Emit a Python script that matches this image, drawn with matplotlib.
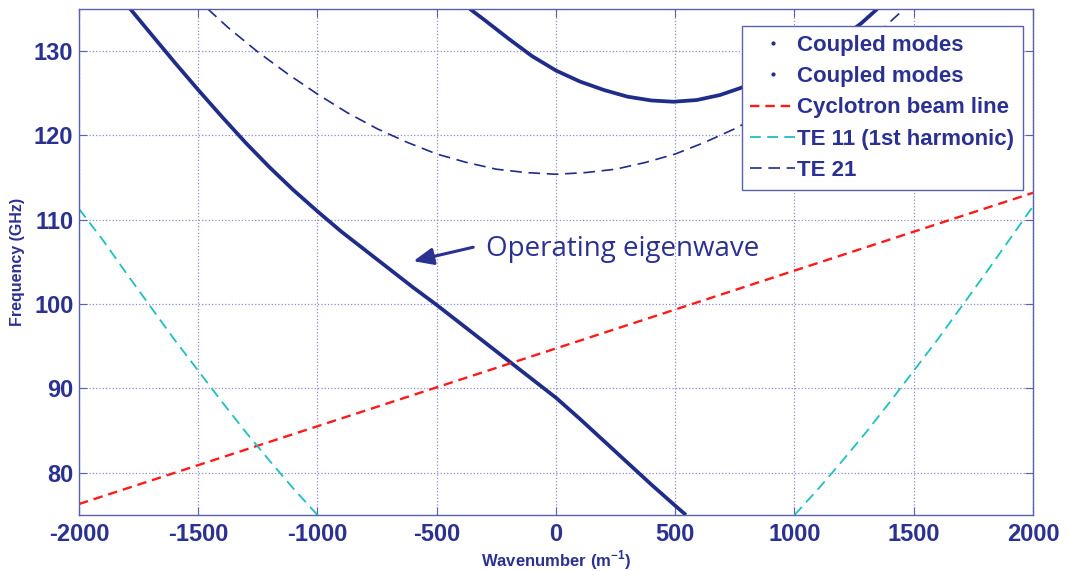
import matplotlib
matplotlib.use('Agg')
import matplotlib.pyplot as plt
from matplotlib.lines import Line2D

# values
k_low = [-1785, -1700, -1600, -1500, -1400, -1300, -1200, -1100, -1000, -900, -800, -700, -600,
         -500, -400, -300, -200, -100, 0, 100, 200, 300, 400, 500, 545]
f_low = [135.0, 132.1, 128.7, 125.4, 122.2, 119.1, 116.2, 113.5, 111.0, 108.6, 106.4, 104.2, 102.0,
         99.9, 97.7, 95.5, 93.3, 91.1, 88.9, 86.4, 83.8, 81.2, 78.6, 76.1, 75.0]

k_up = [-361, -300, -200, -100, 0, 100, 200, 300, 400, 492, 590, 688, 771, 900, 1000, 1100, 1200, 1280, 1347]
f_up = [135.0, 133.7, 131.5, 129.4, 127.7, 126.4, 125.4, 124.6, 124.15, 124.0, 124.2, 124.8, 125.6,
        127.0, 128.3, 129.9, 131.6, 133.3, 135.0]

k_beam = [-2000, 2000]
f_beam = [76.3, 113.2]

k_te11_l = [-2000, -1900, -1800, -1700, -1600, -1500, -1400, -1300, -1200, -1100, -1000]
f_te11_l = [111.3, 107.6, 103.6, 99.7, 95.8, 92.1, 88.4, 84.8, 81.4, 78.1, 75.0]
k_te11_r = [1000, 1100, 1200, 1300, 1400, 1500, 1600, 1700, 1800, 1900, 2000]
f_te11_r = [75.0, 78.1, 81.4, 84.8, 88.4, 92.1, 95.8, 99.7, 103.6, 107.6, 111.6]

k_te21 = [-1460, -1375, -1250, -1125, -1000, -875, -750, -625, -500, -375, -250, -125, 0,
          125, 250, 375, 500, 625, 750, 875, 1000, 1125, 1250, 1375, 1460]
f_te21 = [135.0, 132.8, 129.9, 127.3, 124.9, 122.7, 120.8, 119.2, 117.8, 116.8, 116.0, 115.6, 115.4,
          115.6, 116.0, 116.8, 117.8, 119.2, 120.8, 122.7, 124.9, 127.3, 129.9, 132.8, 135.0]

xticks = [-2000, -1500, -1000, -500, 0, 500, 1000, 1500, 2000]
yticks = [80, 90, 100, 110, 120, 130]

navy = '#2b3190'
line_navy = '#1f2c88'
frame = '#5a5fae'
plt.rcParams['font.family'] = ['Liberation Sans', 'DejaVu Sans']
plt.rcParams['axes.unicode_minus'] = False
plt.rcParams['mathtext.fontset'] = 'custom'
plt.rcParams['mathtext.bf'] = 'Liberation Sans:bold'
plt.rcParams['mathtext.rm'] = 'Liberation Sans:bold'

fig = plt.figure(figsize=(10.69, 5.71), dpi=100)
ax = fig.add_axes([0.0739, 0.0981, 0.8924, 0.8862])

ax.plot(k_low, f_low, color=line_navy, lw=2.7, solid_capstyle='butt')
ax.plot(k_up, f_up, color=line_navy, lw=2.7, solid_capstyle='butt')
ax.plot(k_beam, f_beam, color='#ff1a1a', lw=1.7, dashes=(4, 2.5), label='Cyclotron beam line')
ax.plot(k_te11_l, f_te11_l, color='#1fbfc0', lw=1.3, dashes=(6, 3.5), label='TE 11 (1st harmonic)')
ax.plot(k_te11_r, f_te11_r, color='#1fbfc0', lw=1.3, dashes=(6, 3.5))
ax.plot(k_te21, f_te21, color=line_navy, lw=1.2, dashes=(7, 4), label='TE 21')

ax.set_xlim(-2000, 2000)
ax.set_ylim(75, 135)
ax.set_xticks(xticks)
ax.set_yticks(yticks)
ax.grid(True, linestyle=':', color='#8a8ccc', lw=0.9)
ax.tick_params(direction='in', top=True, right=True, length=6, color=frame,
               labelsize=17, labelcolor=navy)
ax.tick_params(axis='y', pad=4)
ax.tick_params(axis='x', pad=6)
for lab in ax.get_xticklabels() + ax.get_yticklabels():
    lab.set_fontweight('bold')
for s in ax.spines.values():
    s.set_color(frame)
    s.set_linewidth(1.0)

ax.set_xlabel(r'Wavenumber (m$^{\mathbf{-1}}$)', fontsize=12, fontweight='bold', color=navy, va='center')
ax.xaxis.set_label_coords(0.5, -0.090)
ax.set_ylabel('Frequency (GHz)', fontsize=11.5, fontweight='bold', color=navy, va='center')
ax.yaxis.set_label_coords(-0.064, 0.5)

ax.text(-295, 105.7, 'Operating eigenwave', fontsize=20, color=navy, va='baseline', ha='left',
        family=['Open Sans', 'DejaVu Sans'])
ax.annotate('', xy=(-598, 105.1), xytext=(-347, 106.75),
            arrowprops=dict(arrowstyle='-|>,head_length=0.75,head_width=0.32', color=navy,
                            lw=2.2, shrinkA=0, shrinkB=0, mutation_scale=16))

dot = dict(ls='none', marker='.', ms=4, color=line_navy)
lines = ax.get_lines()
handles = [Line2D([], [], **dot), Line2D([], [], **dot), lines[2], lines[3], lines[5]]
labels = ['Coupled modes', 'Coupled modes', 'Cyclotron beam line', 'TE 11 (1st harmonic)', 'TE 21']
leg = ax.legend(handles, labels, loc='upper right', bbox_to_anchor=(0.9895, 0.9664),
                borderaxespad=0, fancybox=False, framealpha=1, edgecolor=frame,
                prop={'size': 16, 'weight': 'bold'}, handlelength=2.0, handletextpad=0.1,
                labelspacing=0.46, borderpad=0.4)
leg.get_frame().set_linewidth(1.0)
for t in leg.get_texts():
    t.set_color(navy)

fig.savefig('out.png', dpi=100)
